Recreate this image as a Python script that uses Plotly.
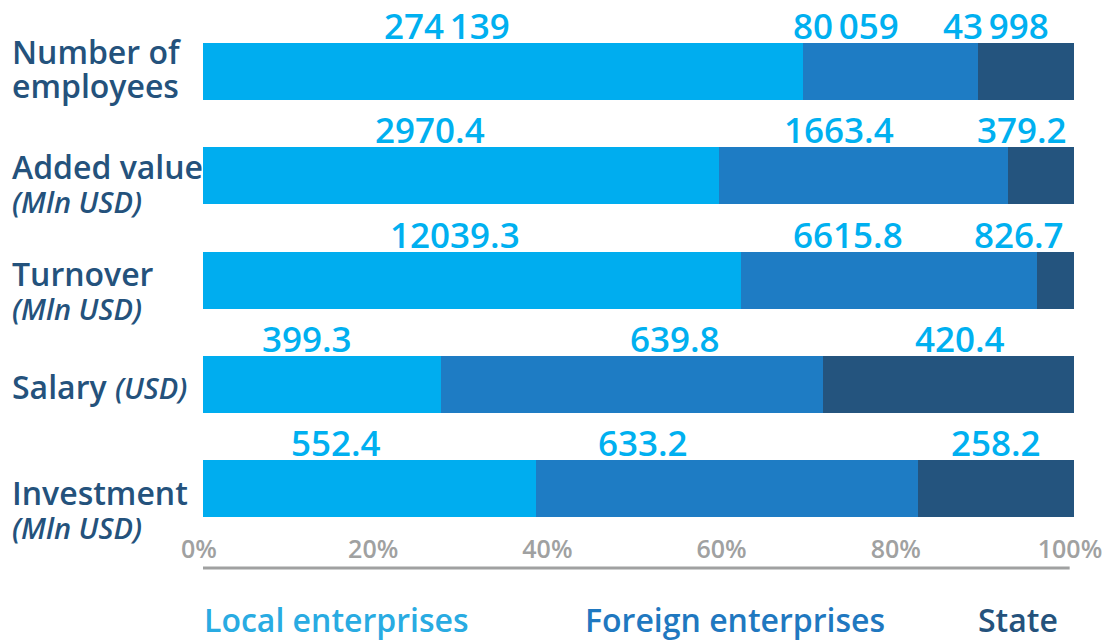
import plotly.graph_objects as go

# Indicators by ownership type
categories = ["Number of employees", "Added value", "Turnover", "Salary", "Investment"]
category_lines = [["Number of", "employees"], ["Added value"], ["Turnover"], ["Salary"], ["Investment"]]
units = ["", "(Mln USD)", "(Mln USD)", "(USD)", "(Mln USD)"]
unit_on_same_line = [False, False, False, True, False]
value_formats = ["{:,.0f}", "{:.1f}", "{:.1f}", "{:.1f}", "{:.1f}"]

series_names = ["Local enterprises", "Foreign enterprises", "State"]
local_values = [274139, 2970.4, 12039.3, 399.3, 552.4]
foreign_values = [80059, 1663.4, 6615.8, 639.8, 633.2]
state_values = [43998, 379.2, 826.7, 420.4, 258.2]

tick_values = [0, 20, 40, 60, 80, 100]
tick_labels = ["0%", "20%", "40%", "60%", "80%", "100%"]

# styling
bar_colors = ["#00ADEF", "#1E7CC4", "#24547E"]
legend_colors = ["#29ABE2", "#1F78C0", "#24527C"]
value_color = "#00B0F0"
label_color = "#24527C"
grey = "#A0A1A1"
FONT = "Open Sans"
BAR_WIDTH = 0.546
PLOT_H = 641 - 19 - 109
PX_PER_ROW = 104.4

# small horizontal nudges (px) for value labels, per category and series
label_nudge = [
    [-56, -44, -30],
    [-31, -25, -19],
    [-17, -41, -37],
    [-15, 43, 11],
    [-34, -84, 0],
]
# vertical shift (px) of each category label block
label_shift = [3, -7, -10, -2, -20]

series_values = [local_values, foreign_values, state_values]
n = len(categories)
totals = [sum(s[i] for s in series_values) for i in range(n)]
shares = [[s[i] / totals[i] * 100 for i in range(n)] for s in series_values]

fig = go.Figure()
for name, share, color in zip(series_names, shares, bar_colors):
    fig.add_trace(go.Bar(
        y=list(range(n)),
        x=share,
        orientation="h",
        name=name,
        marker=dict(color=color, line=dict(width=0)),
        width=BAR_WIDTH,
        hoverinfo="skip",
        showlegend=False,
    ))

annotations = []

# value labels above each segment
for i in range(n):
    start = 0.0
    for k, vals in enumerate(series_values):
        w = shares[k][i]
        txt = value_formats[i].format(vals[i]).replace(",", "\u2009")
        annotations.append(dict(
            x=start + w / 2, y=i - BAR_WIDTH / 2, xref="x", yref="y",
            text=txt, showarrow=False, xanchor="center", yanchor="bottom",
            xshift=label_nudge[i][k], yshift=-7, borderpad=0,
            font=dict(family=FONT, size=35, color=value_color, weight=600),
        ))
        start += w

# category labels on the left; the base font size sets the (tight) line pitch
main_span = "<span style='font-size:32px'>{}</span>"
unit_span = "<i><span style='font-size:29px'>{}</span></i>"
for i in range(n):
    lines = [main_span.format(t) for t in category_lines[i]]
    if units[i]:
        if unit_on_same_line[i]:
            lines[-1] = lines[-1] + main_span.format(" ") + unit_span.format(units[i])
        else:
            lines.append(unit_span.format(units[i]))
    annotations.append(dict(
        x=-0.221, y=i, xref="paper", yref="y", text="<br>".join(lines),
        showarrow=False, xanchor="left", yanchor="middle", align="left",
        yshift=label_shift[i], borderpad=0,
        font=dict(family=FONT, size=26, color=label_color, weight=600),
    ))

# coloured legend text
legend_x = [0.0, 0.611, 0.983]
legend_anchor = ["left", "center", "right"]
for name, color, lx, anc in zip(series_names, legend_colors, legend_x, legend_anchor):
    annotations.append(dict(
        x=lx, y=-0.171, xref="paper", yref="paper", text=name, showarrow=False,
        xanchor=anc, yanchor="middle", borderpad=0,
        font=dict(family=FONT, size=32, color=color, weight=600),
    ))

fig.update_layout(
    width=1106, height=641,
    margin=dict(l=203, r=32, t=19, b=109),
    barmode="stack",
    plot_bgcolor="white", paper_bgcolor="white",
    showlegend=False,
    annotations=annotations,
    shapes=[dict(
        type="line", xref="x", yref="paper", x0=0, x1=99.5, y0=-0.0702, y1=-0.0702,
        line=dict(color=grey, width=3),
    )],
    xaxis=dict(
        range=[0, 100], tickvals=tick_values, ticktext=tick_labels,
        showgrid=False, zeroline=False, showline=False, ticks="",
        tickfont=dict(family=FONT, size=25, color=grey, weight=600),
        ticklabelshift=-4, ticklabeloverflow="allow",
        automargin=False, fixedrange=True,
    ),
    yaxis=dict(
        range=[-0.5 + PLOT_H / PX_PER_ROW, -0.5], showticklabels=False,
        showgrid=False, zeroline=False, showline=False, ticks="",
        automargin=False, fixedrange=True,
    ),
)

fig.write_html("out.html")
